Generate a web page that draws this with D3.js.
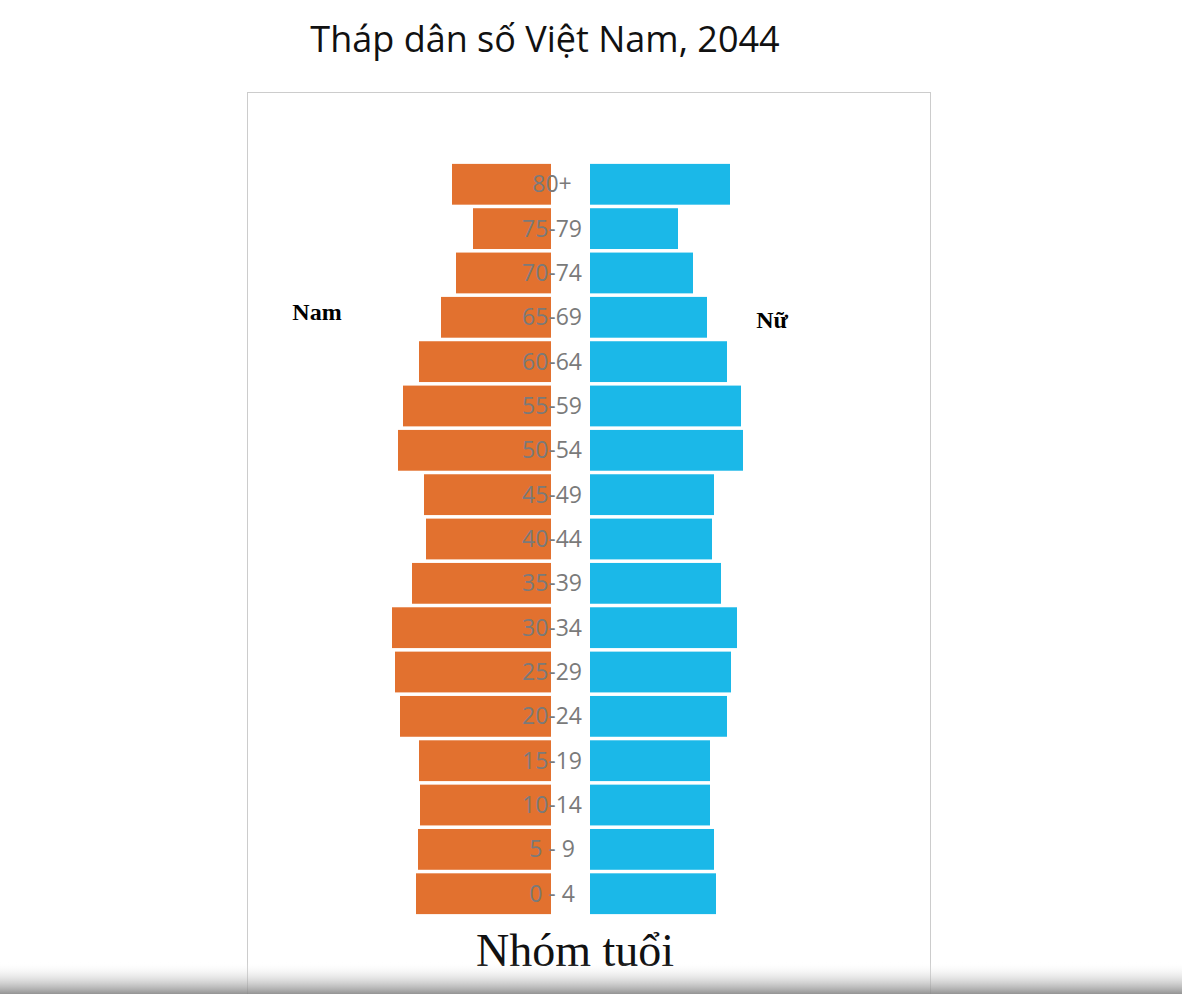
<!DOCTYPE html>
<html><head><meta charset="utf-8">
<script src="https://cdn.jsdelivr.net/npm/d3@7"></script>
<style>body{margin:0;background:#fff}</style></head>
<body><svg id="c" width="1182" height="994"></svg>
<script>
const ageGroups=["80+","75-79","70-74","65-69","60-64","55-59","50-54","45-49","40-44","35-39","30-34","25-29","20-24","15-19","10-14","5 - 9","0 - 4"];
const male=[99,78,95,110,132,148,153,127,125,139,159,156,151,132,131,133,135];
const female=[140,88,103,117,137,151,153,124,122,131,147,141,137,120,120,124,126];

const svg=d3.select("#c");
svg.append("text").attr("x",545).attr("y",52).attr("text-anchor","middle")
 .attr("font-family","Open Sans, sans-serif").attr("font-size",36).attr("fill","#111").text("Tháp dân số Việt Nam, 2044");
svg.append("rect").attr("x",247.5).attr("y",92.5).attr("width",683).attr("height",920).attr("fill","#fff").attr("stroke","#ccc");

const y=d3.scaleBand().domain(ageGroups).range([163,915]).paddingInner(0.08).paddingOuter(0.02);
const xm=d3.scaleLinear().domain([0,160]).range([551,391]);
const xf=d3.scaleLinear().domain([0,160]).range([590,750]);

svg.selectAll(".m").data(ageGroups).join("rect").attr("fill","#E2712F")
 .attr("x",(d,i)=>xm(male[i])).attr("width",(d,i)=>xm(0)-xm(male[i]))
 .attr("y",d=>y(d)).attr("height",y.bandwidth());
svg.selectAll(".f").data(ageGroups).join("rect").attr("fill","#1BB8E8")
 .attr("x",xf(0)).attr("width",(d,i)=>xf(female[i])-xf(0))
 .attr("y",d=>y(d)).attr("height",y.bandwidth());
svg.selectAll(".l").data(ageGroups).join("text").attr("x",552).attr("y",d=>y(d)+y.bandwidth()/2+8)
 .attr("text-anchor","middle").attr("font-family","Open Sans, sans-serif").attr("font-size",23).attr("fill","#7a7a7a").text(d=>d);

svg.append("text").attr("x",317).attr("y",320).attr("text-anchor","middle").attr("font-family","Liberation Serif, serif")
 .attr("font-weight","bold").attr("font-size",24).text("Nam");
svg.append("text").attr("x",772).attr("y",328).attr("text-anchor","middle").attr("font-family","Liberation Serif, serif")
 .attr("font-weight","bold").attr("font-size",24).text("Nữ");
svg.append("text").attr("x",575).attr("y",966).attr("text-anchor","middle").attr("font-family","Liberation Serif, serif")
 .attr("font-size",46).attr("fill","#111").text("Nhóm tuổi");

const g=svg.append("defs").append("linearGradient").attr("id","gb").attr("x1",0).attr("y1",0).attr("x2",0).attr("y2",1);
g.append("stop").attr("offset",0).attr("stop-color","#fff").attr("stop-opacity",0);
g.append("stop").attr("offset",1).attr("stop-color","#888").attr("stop-opacity",0.9);
svg.append("rect").attr("x",0).attr("y",962).attr("width",1182).attr("height",32).attr("fill","url(#gb)");
</script></body></html>
